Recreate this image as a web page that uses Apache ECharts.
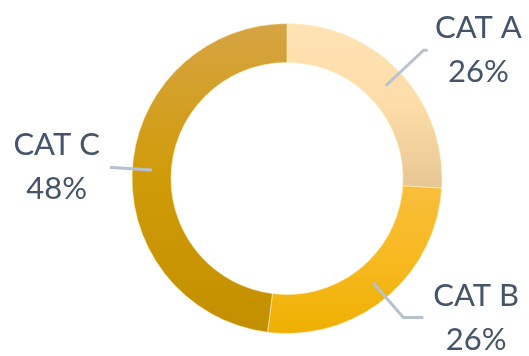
<!DOCTYPE html>
<html>
<head>
<meta charset="utf-8">
<script src="https://cdn.jsdelivr.net/npm/echarts@6/dist/echarts.min.js"></script>
<style>
html,body{margin:0;padding:0;background:#fff;}
#c{width:529px;height:356px;}
</style>
</head>
<body>
<div id="c"></div>
<script>
const categories = ['CAT A', 'CAT B', 'CAT C'];
const values = [26, 26, 48];
const gradTop = ['#FFE3B5', '#F9BE3C', '#D6A444'];
const gradMid = ['#FDDCA8', '#F7B920', '#D09B08'];
const gradBottom = ['#E6C692', '#EEB000', '#C28F00'];
const lineLen = [52, 47, 40];
const lineLen2 = [4, 20, 2];

const chart = echarts.init(document.getElementById('c'));
const ringData = categories.map((n, i) => ({
  name: n,
  value: values[i],
  itemStyle: {
    color: {
      type: 'linear', x: 0, y: 0, x2: 0, y2: 1,
      colorStops: [
        {offset: 0, color: gradTop[i]},
        {offset: 0.5, color: gradMid[i]},
        {offset: 1, color: gradBottom[i]}
      ]
    }
  }
}));
const labelData = categories.map((n, i) => ({
  name: n,
  value: values[i],
  labelLine: {length: lineLen[i], length2: lineLen2[i]}
}));
const total = values.reduce((a, b) => a + b, 0);

chart.setOption({
  animation: false,
  series: [
    {
      type: 'pie',
      z: 1,
      center: [287, 178.5],
      radius: [116, 155],
      startAngle: 90,
      clockwise: true,
      silent: true,
      label: {show: false},
      labelLine: {show: false},
      itemStyle: {borderColor: 'rgba(255,240,200,0.6)', borderWidth: 1},
      data: ringData
    },
    {
      type: 'pie',
      z: 10,
      center: [287, 178.5],
      radius: [0, 135.5],
      startAngle: 90,
      clockwise: true,
      silent: true,
      itemStyle: {color: 'rgba(0,0,0,0)'},
      label: {
        show: true,
        overflow: 'none',
        distanceToLabelLine: 10,
        formatter: p => '{a|' + p.name + '}\n{a|' + Math.round(p.value / total * 100) + '%}',
        rich: {
          a: {
            fontFamily: 'Lato',
            fontSize: 31,
            lineHeight: 44,
            color: '#44546A',
            align: 'center'
          }
        }
      },
      labelLine: {
        show: true,
        z: 20,
        lineStyle: {color: '#B6C2CF', width: 3}
      },
      data: labelData
    }
  ]
});
</script>
</body>
</html>
